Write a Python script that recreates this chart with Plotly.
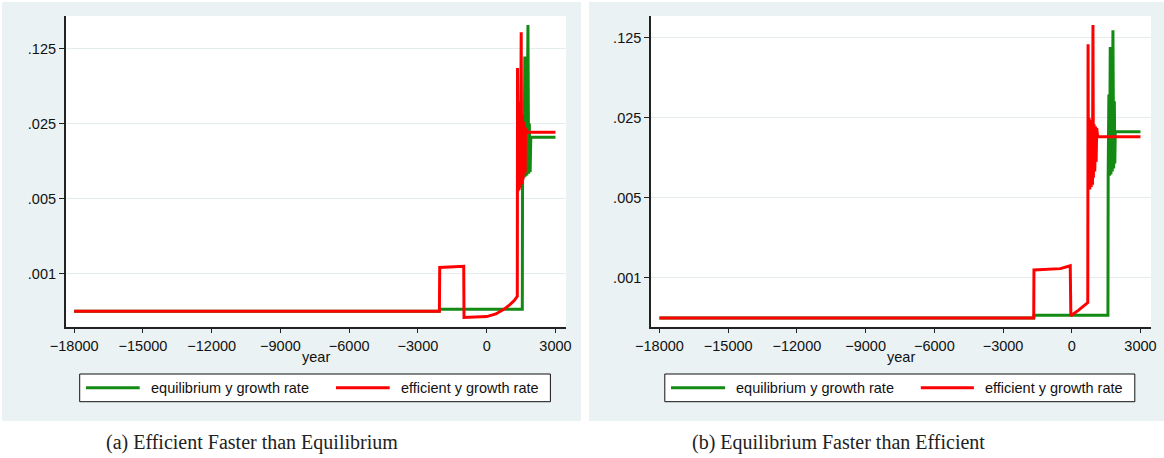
import plotly.graph_objects as go

# ---- data: output growth rates over time ----
# (a) efficient faster than equilibrium
year_a_eq = [-18000, -2064, -2050, 1553, 1565, 1600, 1630, 1662, 1690, 1720, 1750, 1800,
             1830, 1860, 1895, 1924, 3000]
gr_a_eq = [0.000445, 0.000445, 0.000464, 0.000464, 0.0078, 0.03, 0.0078, 0.105, 0.008, 0.03,
           0.0082, 0.207, 0.0085, 0.025, 0.0088, 0.0186, 0.0186]

year_a_eff = [-18000, -2064, -2050, -1500, -1003, -990, -500, 0, 400, 746, 1000, 1200, 1335,
              1345, 1365, 1390, 1415, 1445, 1470, 1505, 1525, 1555, 1585, 1615, 1645, 1680,
              1693, 1740, 1806, 3000]
gr_a_eff = [0.000445, 0.000445, 0.00114, 0.00115, 0.00117, 0.000389, 0.000391, 0.000397,
            0.00042, 0.000464, 0.00051, 0.00056, 0.000614, 0.082, 0.0058, 0.04, 0.006, 0.035,
            0.0063, 0.177, 0.0068, 0.03, 0.0075, 0.026, 0.0085, 0.0089, 0.0226, 0.0215,
            0.0207, 0.0207]

# (b) equilibrium faster than efficient
year_b_eq = [-18000, -1660, -1640, 1580, 1590, 1620, 1650, 1681, 1710, 1740, 1770, 1798,
             1830, 1860, 1880, 1900, 3000]
gr_b_eq = [0.000445, 0.000445, 0.000469, 0.000469, 0.0077, 0.04, 0.0078, 0.104, 0.008, 0.05,
           0.0085, 0.146, 0.009, 0.035, 0.01, 0.0189, 0.0189]

year_b_eff = [-18000, -1660, -1650, -1000, -500, -66, -40, 300, 700, 712, 730, 760, 790, 820,
              850, 880, 905, 926, 945, 975, 1005, 1035, 1065, 1090, 1110, 1130, 3000]
gr_b_eff = [0.000445, 0.000445, 0.00117, 0.00118, 0.0012, 0.00127, 0.000465, 0.00052,
            0.000605, 0.11, 0.0059, 0.025, 0.0059, 0.024, 0.0062, 0.023, 0.0065, 0.162,
            0.0075, 0.022, 0.0085, 0.021, 0.0103, 0.0203, 0.0185, 0.0171, 0.0171]

x_ticks = [-18000, -15000, -12000, -9000, -6000, -3000, 0, 3000]
x_tick_labels = ["\u221218000", "\u221215000", "\u221212000", "\u22129000", "\u22126000",
                 "\u22123000", "0", "3000"]
y_ticks = [0.001, 0.005, 0.025, 0.125]
y_tick_labels = [".001", ".005", ".025", ".125"]

series_names = ["equilibrium y growth rate", "efficient y growth rate"]
captions = ["(a) Efficient Faster than Equilibrium", "(b) Equilibrium Faster than Efficient"]

# ---- styling ----
W, H = 1164, 458
GREEN = "#138a13"
RED = "#ff0000"
REGION = "#eaf2f3"
GRID = "#e4ecee"
FONT = "Liberation Sans, Arial, sans-serif"
SERIF = "Liberation Serif, Times New Roman, serif"
FS = 14.5


def px(x):
    return x / W


def py(y):
    return 1 - y / H


fig = go.Figure()

fig.add_trace(go.Scatter(x=year_a_eq, y=gr_a_eq, mode="lines", name=series_names[0],
                         line=dict(color=GREEN, width=3), xaxis="x", yaxis="y",
                         showlegend=False))
fig.add_trace(go.Scatter(x=year_a_eff, y=gr_a_eff, mode="lines", name=series_names[1],
                         line=dict(color=RED, width=3), xaxis="x", yaxis="y",
                         showlegend=False))
fig.add_trace(go.Scatter(x=year_b_eq, y=gr_b_eq, mode="lines", name=series_names[0],
                         line=dict(color=GREEN, width=3), xaxis="x2", yaxis="y2",
                         showlegend=False))
fig.add_trace(go.Scatter(x=year_b_eff, y=gr_b_eff, mode="lines", name=series_names[1],
                         line=dict(color=RED, width=3), xaxis="x2", yaxis="y2",
                         showlegend=False))

# panel geometry (pixels)
panels = [
    dict(region=(2, 2, 581, 421), plot=(65.7, 16, 566, 326.7), yrange=(-3.4953, -0.6007),
         legend=(79.7, 374, 550.4, 401.7), lines=[(86, 139.7, 148.6), (336, 389.7, 398.6)],
         caption_x=104),
    dict(region=(589, 2, 1164, 421), plot=(651, 16, 1151, 326.7), yrange=(-3.4288, -0.711),
         legend=(664.8, 374, 1134.8, 401.7), lines=[(671, 725.1, 734.3), (920.8, 973.9, 982.7)],
         caption_x=690),
]

shapes = []
annotations = []
layout_axes = {}
for i, p in enumerate(panels):
    sfx = "" if i == 0 else str(i + 1)
    rx0, ry0, rx1, ry1 = p["region"]
    shapes.append(dict(type="rect", xref="paper", yref="paper", layer="below",
                       x0=px(rx0), x1=px(rx1), y0=py(ry1), y1=py(ry0),
                       fillcolor=REGION, line=dict(width=0)))
    x0, y0, x1, y1 = p["plot"]
    shapes.append(dict(type="rect", xref="paper", yref="paper", layer="below",
                       x0=px(x0), x1=px(x1), y0=py(y1), y1=py(y0),
                       fillcolor="white", line=dict(width=0)))
    # legend box
    lx0, ly0, lx1, ly1 = p["legend"]
    shapes.append(dict(type="rect", xref="paper", yref="paper", layer="above",
                       x0=px(lx0), x1=px(lx1), y0=py(ly1), y1=py(ly0),
                       fillcolor="white", line=dict(color="#111111", width=1)))
    ly = (ly0 + ly1) / 2
    for (a, b, t), col, name in zip(p["lines"], [GREEN, RED], series_names):
        shapes.append(dict(type="line", xref="paper", yref="paper", layer="above",
                           x0=px(a), x1=px(b), y0=py(ly), y1=py(ly),
                           line=dict(color=col, width=3)))
        annotations.append(dict(text=name, xref="paper", yref="paper", x=px(t), y=py(ly),
                                xanchor="left", yanchor="middle", showarrow=False,
                                font=dict(family=FONT, size=FS, color="#111111")))
    # axis title
    annotations.append(dict(text="year", xref="paper", yref="paper", x=px((x0 + x1) / 2),
                            y=py(357), xanchor="center", yanchor="middle", showarrow=False,
                            font=dict(family=FONT, size=FS, color="#111111")))
    # caption
    annotations.append(dict(text=captions[i], xref="paper", yref="paper",
                            x=px(p["caption_x"]), y=py(442), xanchor="left",
                            yanchor="middle", showarrow=False,
                            font=dict(family=SERIF, size=20, color="#222222")))

    layout_axes["xaxis" + sfx] = dict(
        domain=[px(x0), px(x1)], range=[-18370, 3460], anchor="y" + sfx,
        tickvals=x_ticks, ticktext=x_tick_labels, ticks="outside", ticklen=5,
        tickwidth=1, tickcolor="#222222", showgrid=False, zeroline=False,
        showline=True, linecolor="#222222", linewidth=1.5, automargin=False,
        tickfont=dict(family=FONT, size=FS, color="#111111"),
    )
    layout_axes["yaxis" + sfx] = dict(
        domain=[py(y1), py(y0)], type="log", range=list(p["yrange"]), anchor="x" + sfx,
        tickvals=y_ticks, ticktext=y_tick_labels, ticks="outside", ticklen=5,
        tickwidth=1, tickcolor="#222222", showgrid=True, gridcolor=GRID, gridwidth=1,
        zeroline=False, showline=True, linecolor="#222222", linewidth=1.5, automargin=False,
        tickfont=dict(family=FONT, size=FS, color="#111111"),
    )

fig.update_layout(
    width=W, height=H, autosize=False,
    margin=dict(l=0, r=0, t=0, b=0, autoexpand=False),
    paper_bgcolor="white", plot_bgcolor="rgba(0,0,0,0)",
    shapes=shapes, annotations=annotations, showlegend=False,
    **layout_axes,
)

fig.write_html("out.html", post_script="document.body.style.margin='0px';")
